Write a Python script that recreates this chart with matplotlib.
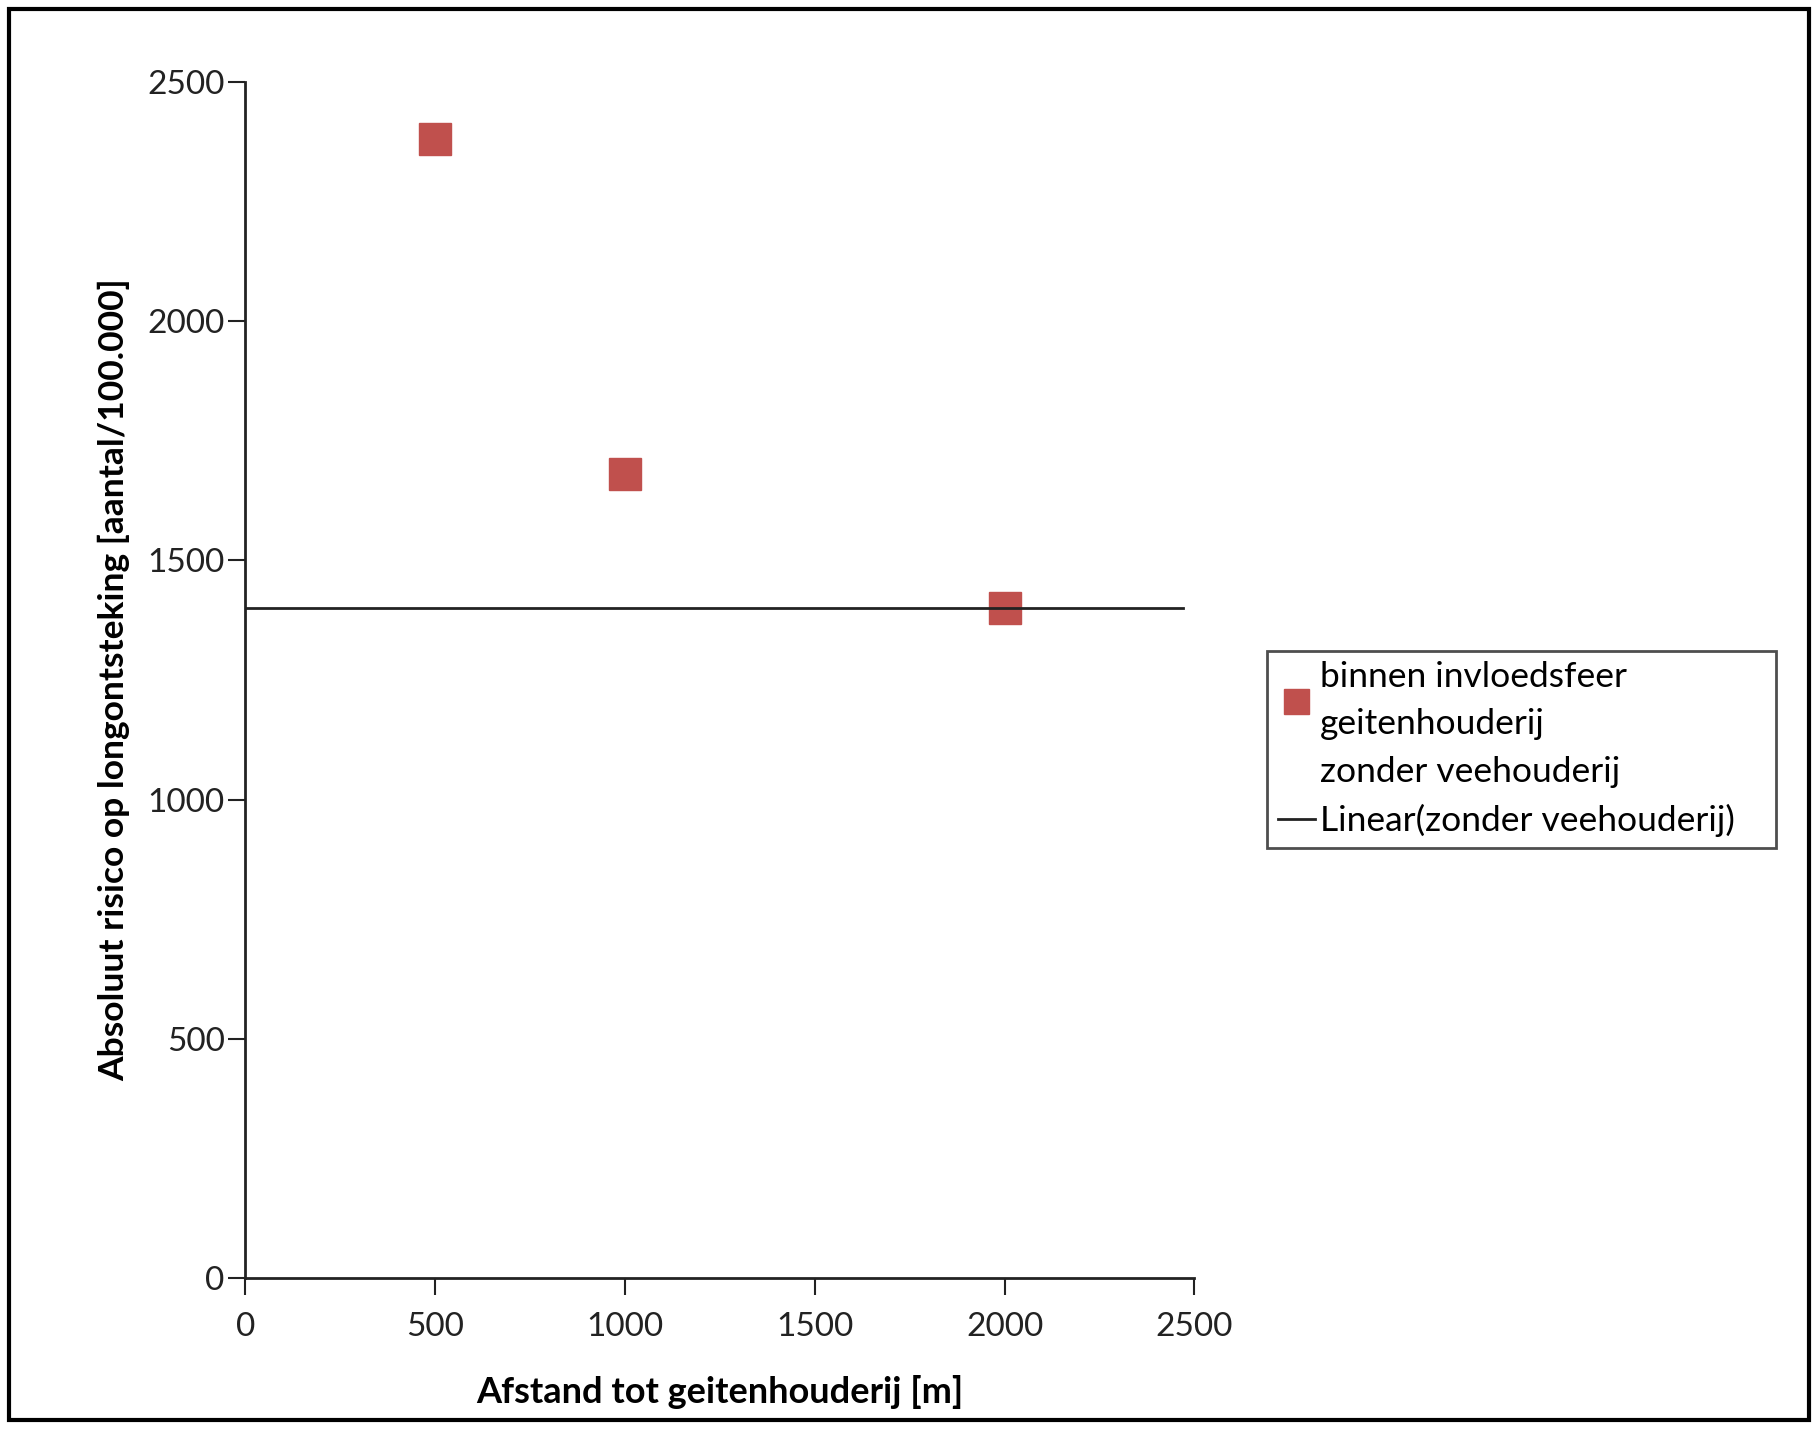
import matplotlib.pyplot as plt
from matplotlib.lines import Line2D
from matplotlib.patches import Rectangle

plt.rcParams['font.family'] = ['Lato', 'DejaVu Sans']

distance = [500, 1000, 2000]
risk = [2380, 1680, 1400]
trend_x = [0, 2470]
trend_y = [1400, 1400]
xticks = [0, 500, 1000, 1500, 2000, 2500]
yticks = [0, 500, 1000, 1500, 2000, 2500]

fig = plt.figure(figsize=(18.18, 14.30), dpi=100)
ax = fig.add_axes([0.135, 0.106, 0.522, 0.837])

red = '#C0504D'
ax.plot(distance, risk, linestyle='none', marker='s', markersize=23,
        color=red, label='binnen invloedsfeer\ngeitenhouderij')
ax.plot(trend_x, trend_y, color='#222222', linewidth=2)

ax.set_xlim(0, 2500)
ax.set_ylim(0, 2500)
ax.set_xticks(xticks)
ax.set_yticks(yticks)
ax.spines['top'].set_visible(False)
ax.spines['right'].set_visible(False)
for s in ['left', 'bottom']:
    ax.spines[s].set_linewidth(2)
    ax.spines[s].set_color('#222222')
ax.tick_params(direction='out', length=12, width=1.5, labelsize=24, colors='#222222')
ax.tick_params(axis='x', pad=12)
ax.tick_params(axis='y', pad=3)

ax.set_xlabel('Afstand tot geitenhouderij [m]', fontsize=26, fontweight='bold', labelpad=24)
ax.set_ylabel('Absoluut risico op longontsteking [aantal/100.000]', fontsize=25.5,
              fontweight='bold', labelpad=12)

handles = [
    Line2D([], [], linestyle='none', marker='s', markersize=18, color=red),
    Line2D([], [], linestyle='none'),
    Line2D([], [], color='#222222', linewidth=2),
]
labels = ['binnen invloedsfeer\ngeitenhouderij', 'zonder veehouderij', 'Linear(zonder veehouderij)']
leg = fig.legend(handles, labels, loc='upper left', bbox_to_anchor=(0.697, 0.414, 0.28, 0.131),
                 mode='expand', bbox_transform=fig.transFigure, fontsize=25.5, frameon=True,
                 fancybox=False, edgecolor='#222222', handlelength=1.05, handletextpad=0.15,
                 borderpad=0.3, borderaxespad=0, labelspacing=0.45)
leg.get_frame().set_linewidth(2)
leg.get_texts()[0].set_linespacing(1.58)

fig.patches.append(Rectangle((0.005, 0.007), 0.990, 0.987, transform=fig.transFigure,
                             fill=False, edgecolor='black', linewidth=3))

fig.savefig('out.png', dpi=100, facecolor='white')
